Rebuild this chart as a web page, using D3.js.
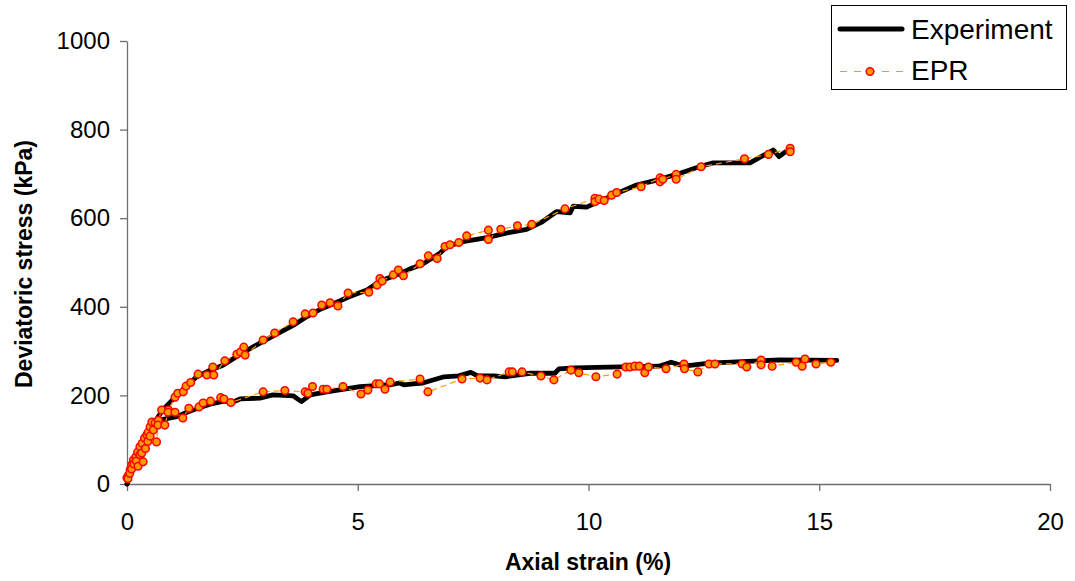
<!DOCTYPE html>
<html>
<head>
<meta charset="utf-8">
<script src="https://cdn.jsdelivr.net/npm/d3@7"></script>
<style>
  html, body { margin: 0; padding: 0; background: #fff; }
  svg { display: block; font-family: "Liberation Sans", Arial, sans-serif; }
</style>
</head>
<body>
<svg id="chart" width="1075" height="581"></svg>
<script>
// ---------- data (axial strain %, deviatoric stress kPa) ----------
const expUpperX = [0,0.1,0.2,0.3,0.4,0.5,0.64,0.78,1.08,1.3,1.51,1.8,2.08,2.5,2.88,3.2,3.6,3.9,4.2,4.5,4.8,5.2,5.48,5.8,6.1,6.4,6.78,6.93,7.28,7.8,8.3,8.66,9.0,9.31,9.6,9.67,9.96,10.53,11.04,11.48,12.0,12.4,12.7,13.5,14.0,14.13,14.32];
const expUpperY = [0,38,62,88,108,127,146,168,200,222,242,257,268,296,318,336,358,378,395,408,422,438,458,470,484,496,521,536,547,556,568,575,592,615,612,627,625,652,675,686,702,716,725,725,754,739,754];

const expLowerX = [0,0.1,0.2,0.3,0.4,0.5,0.64,0.78,1.08,1.3,1.5,1.8,2.1,2.3,2.45,2.88,3.16,3.6,3.78,3.97,4.33,5.05,5.72,5.9,6.0,6.2,6.41,6.87,7.19,7.45,7.6,7.95,8.2,8.73,9.27,9.36,9.7,10.44,11.53,11.79,12.07,12.61,14.15,15.38];
const expLowerY = [0,35,58,82,102,120,138,146,152,162,170,180,187,185,192,194,201,199,186,201,208,220,224,228,224,226,228,242,244,252,244,244,242,250,250,260,262,264,266,275,266,273,280,279];

const eprUpperX = [0,0.03,0.07,0.1,0.14,0.19,0.23,0.28,0.33,0.38,0.43,0.46,0.5,0.54,0.61,0.68,0.75,0.9,1.04,1.1,1.22,1.28,1.38,1.54,1.73,1.86,1.88,2.12,2.38,2.46,2.53,2.56,2.95,3.2,3.6,3.86,4.03,4.22,4.4,4.57,4.79,5.24,5.42,5.48,5.53,5.77,5.88,5.99,6.35,6.53,6.72,6.89,7.0,7.19,7.36,7.83,7.83,8.1,8.46,8.77,9.49,10.14,10.14,10.23,10.34,10.5,10.61,11.14,11.55,11.55,11.61,11.9,11.9,12.44,13.38,13.9,14.37,14.37];
const eprUpperY = [14,20,32,43,54,61,72,84,92,104,111,117,129,140,138,144,167,167,196,205,208,221,229,248,246,264,246,278,293,298,309,291,325,341,366,384,386,404,409,402,431,433,449,464,458,472,483,470,497,515,509,536,540,545,560,573,552,575,583,586,621,645,637,643,640,652,658,671,691,682,688,699,688,716,734,744,758,750];

const eprLowerX = [0.02,0.06,0.1,0.15,0.2,0.24,0.28,0.32,0.35,0.4,0.45,0.5,0.57,0.64,0.67,0.82,0.89,1.04,1.21,1.34,1.56,1.65,1.81,2.03,2.1,2.25,2.95,3.42,3.86,3.92,4.02,4.25,4.33,4.68,5.07,5.22,5.4,5.47,5.59,5.7,6.35,6.52,7.26,7.65,7.8,8.28,8.35,8.56,8.97,9.25,9.62,9.79,10.16,10.62,10.81,10.9,11.0,11.1,11.22,11.3,11.68,12.07,12.08,12.37,12.61,12.74,13.33,13.43,13.74,13.74,13.98,14.5,14.63,14.69,14.93,15.25];
const eprLowerY = [12,24,34,45,52,40,66,70,50,80,96,108,122,95,133,133,162,162,149,171,174,183,187,195,192,184,208,211,208,205,220,214,214,220,203,212,226,226,214,230,237,208,237,239,235,253,253,253,244,235,257,251,242,248,264,264,266,266,251,264,260,271,260,253,271,271,271,264,280,269,266,275,266,282,271,275];

const xTicks = [0, 5, 10, 15, 20];
const yTicks = [0, 200, 400, 600, 800, 1000];
const legendLabels = ["Experiment", "EPR"];
const xTitle = "Axial strain (%)";
const yTitle = "Deviatoric stress (kPa)";

// ---------- drawing ----------
const svg = d3.select("#chart");
const x = d3.scaleLinear().domain([0, 20]).range([127, 1050]);
const y = d3.scaleLinear().domain([0, 1000]).range([484, 41]);

const axisColor = "#6e6e6e";
const fmt = d3.format("d");

// Axes
const gx = svg.append("g").attr("transform", `translate(0,${y(0)})`)
  .call(d3.axisBottom(x).tickValues(xTicks).tickFormat(fmt).tickSize(7).tickSizeOuter(0).tickPadding(22));
const gy = svg.append("g").attr("transform", `translate(${x(0)},0)`)
  .call(d3.axisLeft(y).tickValues(yTicks).tickFormat(fmt).tickSize(7).tickSizeOuter(0).tickPadding(10));
[gx, gy].forEach(g => {
  g.select(".domain").attr("stroke", axisColor).attr("stroke-width", 1.3);
  g.selectAll(".tick line").attr("stroke", axisColor).attr("stroke-width", 1.3);
  g.selectAll(".tick text").attr("fill", "#000").style("font-size", "24px")
    .style("font-family", '"Liberation Sans", Arial, sans-serif');
});

// Titles
svg.append("text").attr("x", 588).attr("y", 570).attr("text-anchor", "middle")
  .style("font-size", "23px").style("font-weight", "bold").text(xTitle);
svg.append("text").attr("transform", "translate(32,264) rotate(-90)").attr("text-anchor", "middle")
  .style("font-size", "23px").style("font-weight", "bold").text(yTitle);

const zip = (xs, ys) => xs.map((v, i) => [v, ys[i]]);
const line = d3.line().x(d => x(d[0])).y(d => y(d[1]));

// Experiment lines
[zip(expUpperX, expUpperY), zip(expLowerX, expLowerY)].forEach(data => {
  svg.append("path").datum(data).attr("d", line)
    .attr("fill", "none").attr("stroke", "#000").attr("stroke-width", 4.8)
    .attr("stroke-linejoin", "round").attr("stroke-linecap", "round");
});

// EPR series
[zip(eprUpperX, eprUpperY), zip(eprLowerX, eprLowerY)].forEach(data => {
  svg.append("path").datum(data).attr("d", line)
    .attr("fill", "none").attr("stroke", "#FF9900").attr("stroke-width", 1.2)
    .attr("stroke-dasharray", "6,4");
  svg.append("g").selectAll("circle").data(data).join("circle")
    .attr("cx", d => x(d[0])).attr("cy", d => y(d[1])).attr("r", 3.8)
    .attr("fill", "#FF9900").attr("stroke", "#FF0000").attr("stroke-width", 1.5);
});

// Legend
const lg = svg.append("g");
lg.append("rect").attr("x", 831.5).attr("y", 5.5).attr("width", 235).attr("height", 84)
  .attr("fill", "#fff").attr("stroke", "#000").attr("stroke-width", 1);
lg.append("line").attr("x1", 840).attr("x2", 902).attr("y1", 29).attr("y2", 29)
  .attr("stroke", "#000").attr("stroke-width", 5).attr("stroke-linecap", "round");
lg.append("line").attr("x1", 840).attr("x2", 903).attr("y1", 71.5).attr("y2", 71.5)
  .attr("stroke", "#FF9900").attr("stroke-width", 1).attr("stroke-dasharray", "7,7");
lg.append("circle").attr("cx", 870).attr("cy", 71.5).attr("r", 3.8)
  .attr("fill", "#FF9900").attr("stroke", "#FF0000").attr("stroke-width", 1.5);
lg.selectAll("text.lbl").data(legendLabels).join("text").attr("class", "lbl")
  .attr("x", 911).attr("y", (d, i) => 39 + i * 41)
  .style("font-size", "28px").text(d => d);
</script>
</body>
</html>
